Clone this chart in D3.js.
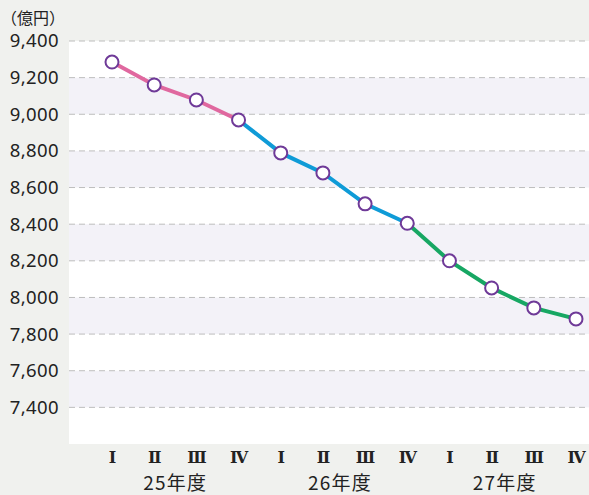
<!DOCTYPE html>
<html><head><meta charset="utf-8">
<script src="https://cdn.jsdelivr.net/npm/d3@7"></script>
<style>body{margin:0;background:#f0f1ee;} svg{display:block;}</style>
</head><body>
<svg id="c" width="589" height="495"></svg>
<script>
const quarters = ["Ⅰ","Ⅱ","Ⅲ","Ⅳ","Ⅰ","Ⅱ","Ⅲ","Ⅳ","Ⅰ","Ⅱ","Ⅲ","Ⅳ"];
const years = ["25年度","26年度","27年度"];
const values = [9285, 9160, 9078, 8969, 8789, 8680, 8511, 8405, 8200, 8052, 7943, 7883];
const segColors = ["#e0689f", "#0f9bd7", "#17a763"];
const yTicks = [7400, 7600, 7800, 8000, 8200, 8400, 8600, 8800, 9000, 9200, 9400];
const unitLabel = "（億円）";

(function () {
const svg = d3.select("#c");
const W = 589, H = 495;
const pLeft = 69, pTop = 41, pBottom = 444;
const y = d3.scaleLinear().domain([7200, 9400]).range([pBottom, pTop]);
const x = d3.scalePoint().domain(d3.range(values.length)).range([112, 576]);

svg.append("rect").attr("x", pLeft).attr("y", pTop).attr("width", W - pLeft).attr("height", pBottom - pTop).attr("fill", "#fff");
for (let i = 0; i < yTicks.length - 1; i++) {
  const lo = yTicks[i], hi = yTicks[i + 1];
  if (i % 2 === 0) {
    svg.append("rect").attr("x", pLeft).attr("y", y(hi)).attr("width", W - pLeft)
      .attr("height", y(lo) - y(hi)).attr("fill", "#f3f2f8");
  }
}
svg.append("g").selectAll("line").data(yTicks).join("line")
  .attr("x1", pLeft).attr("x2", W).attr("y1", d => y(d)).attr("y2", d => y(d))
  .attr("stroke", "#bdbdbd").attr("stroke-width", 1).attr("stroke-dasharray", "6,4");

const yAxis = d3.axisLeft(y).tickValues(yTicks).tickSize(0).tickPadding(10).tickFormat(d3.format(","));
const ga = svg.append("g").attr("transform", `translate(${pLeft},0)`).call(yAxis);
ga.select(".domain").remove();
ga.selectAll("text").attr("font-family", "'Noto Sans', sans-serif")
  .attr("font-size", 18.5).attr("letter-spacing", 0.4).attr("fill", "#222");

svg.append("text").attr("x", 1).attr("y", 24).text(unitLabel)
  .attr("font-family", "'Noto Sans CJK JP', sans-serif").attr("font-size", 16).attr("fill", "#222");

for (let s = 0; s < 3; s++) {
  const idx = d3.range(s * 4 - (s > 0 ? 1 : 0), s * 4 + 4);
  svg.append("path").datum(idx)
    .attr("d", d3.line().x(i => x(i)).y(i => y(values[i])))
    .attr("fill", "none").attr("stroke", segColors[s]).attr("stroke-width", 4);
}
svg.append("g").selectAll("circle").data(values).join("circle")
  .attr("cx", (d, i) => x(i)).attr("cy", d => y(d)).attr("r", 6.5)
  .attr("fill", "#fff").attr("stroke", "#6f3a98").attr("stroke-width", 2);

const xAxis = d3.axisBottom(x).tickSize(0).tickPadding(19).tickFormat(i => quarters[i]);
const gx = svg.append("g").attr("transform", `translate(0,${pBottom})`).call(xAxis);
gx.select(".domain").remove();
gx.selectAll("text").attr("dy", 0).attr("font-family", "'DejaVu Serif', 'Liberation Serif', serif")
  .attr("font-weight", "bold").attr("font-size", 16).attr("fill", "#222");

svg.append("g").selectAll("text").data(years).join("text")
  .attr("x", (d, k) => (x(k * 4 + 1) + x(k * 4 + 2)) / 2 - k * 4)
  .attr("y", 490).attr("text-anchor", "middle").text(d => d)
  .attr("font-family", "'Noto Sans CJK JP', sans-serif").attr("font-size", 19).attr("letter-spacing", 1.2).attr("fill", "#222");
})();
</script>
</body></html>
